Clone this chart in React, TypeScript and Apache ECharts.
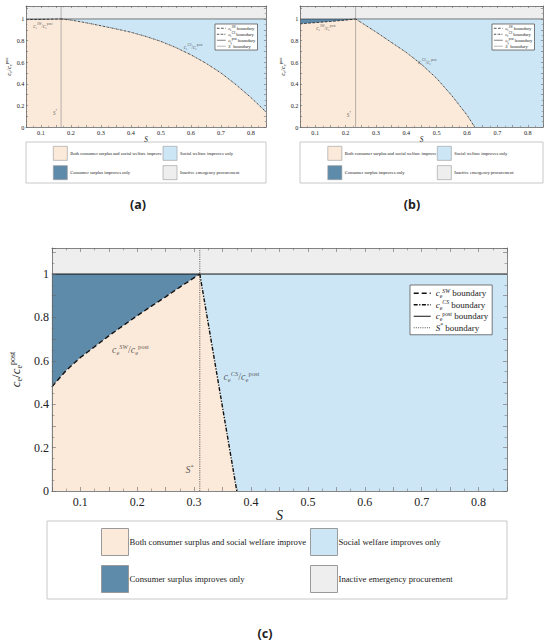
import React, { useEffect, useRef } from "react";
import * as echarts from "echarts";

const SERIF = "'Liberation Serif', 'DejaVu Serif', serif";
const SANS = "'Noto Sans', 'Open Sans', sans-serif";

// axis ranges and tick labels
const X_RANGE = [0.05, 0.85];
const Y_RANGE = [0, 1.12];
const X_TICK_LABELS = [0.1, 0.2, 0.3, 0.4, 0.5, 0.6, 0.7, 0.8];
const Y_TICK_LABELS = [0, 0.2, 0.4, 0.6, 0.8, 1];
const POST_LEVEL = 1;

// panel (a)
const A_S_STAR = 0.167;
const A_SW_S = [0.05, 0.1, 0.167];
const A_SW_V = [0.994, 0.996, 1.0];
const A_CS_S = [0.167, 0.2, 0.25, 0.3, 0.35, 0.4, 0.45, 0.5, 0.55, 0.6, 0.65, 0.7, 0.75, 0.8, 0.85];
const A_CS_V = [1.0, 0.99, 0.965, 0.937, 0.908, 0.877, 0.838, 0.792, 0.735, 0.668, 0.59, 0.5, 0.392, 0.272, 0.14];

// panel (b)
const B_S_STAR = 0.233;
const B_SW_S = [0.05, 0.1, 0.15, 0.2, 0.233];
const B_SW_V = [0.955, 0.966, 0.977, 0.989, 1.0];
const B_CS_S = [0.233, 0.25, 0.3, 0.35, 0.4, 0.45, 0.5, 0.55, 0.6, 0.625];
const B_CS_V = [1.0, 0.97, 0.88, 0.785, 0.69, 0.58, 0.45, 0.29, 0.11, 0.0];

// panel (c)
const C_S_STAR = 0.31;
const C_SW_S = [0.05, 0.075, 0.1, 0.125, 0.15, 0.175, 0.2, 0.225, 0.25, 0.275, 0.31];
const C_SW_V = [0.48, 0.555, 0.615, 0.665, 0.715, 0.762, 0.808, 0.852, 0.895, 0.94, 1.0];
const C_CS_S = [0.31, 0.375];
const C_CS_V = [1.0, 0.0];

const REGION_NAMES = [
  "Both consumer surplus and social welfare improve",
  "Consumer surplus improves only",
  "Social welfare improves only",
  "Inactive emergency procurement",
];
const LINE_NAMES = ["c_e^SW boundary", "c_e^CS boundary", "c_e^post boundary", "S* boundary"];
const CAPTIONS = ["(a)", "(b)", "(c)"];

const PEACH = "#FBE9D9";
const DARK_BLUE = "#5F8BAA";
const LIGHT_BLUE = "#CDE6F5";
const GREY = "#EEEEEE";
const REGION_COLORS = [PEACH, DARK_BLUE, LIGHT_BLUE, GREY];
const FRAME = "#666";

const LINE_RICH: Record<string, string> = {
  "c_e^SW boundary": "{i|c}{sub|e}{supi|SW}{n| boundary}",
  "c_e^CS boundary": "{i|c}{sub|e}{supi|CS}{n| boundary}",
  "c_e^post boundary": "{i|c}{sub|e}{sup|post}{n| boundary}",
  "S* boundary": "{i|S}{sup|*}{n| boundary}",
};
const SW_LABEL = "{i|c}{sub|e}{supi|SW}{n|/}{i|c}{sub|e}{sup|post}";
const CS_LABEL = "{i|c}{sub|e}{supi|CS}{n|/}{i|c}{sub|e}{sup|post}";
const STAR_LABEL = "{i|S}{sup|*}";
const Y_NAME = "{i|c}{sub|e}{n|/}{i|c}{sub|e}{sup|post}";

type Panel = {
  s: number;
  grid: { left: number; top: number; width: number; height: number };
  sStar: number;
  sw: [number[], number[]];
  cs: [number[], number[]];
  starDotted: boolean;
  lineLegend: { left: number; top: number };
  box: { x: number; y: number; w: number; h: number };
  cols: { left: number; top: number }[];
  caption: { x: number; y: number };
  swAt: number[];
  csAt: number[];
  starAt: number[];
};

const PANELS: Panel[] = [
  {
    s: 0.52,
    grid: { left: 26, top: 6, width: 240, height: 121 },
    sStar: A_S_STAR,
    sw: [A_SW_S, A_SW_V],
    cs: [A_CS_S, A_CS_V],
    starDotted: false,
    lineLegend: { left: 215, top: 24 },
    box: { x: 26, y: 142, w: 240, h: 41 },
    cols: [{ left: 53, top: 146 }, { left: 162.7, top: 146 }],
    caption: { x: 138, y: 204 },
    swAt: [0.106, 0.935],
    csAt: [0.607, 0.744],
    starAt: [0.147, 0.13],
  },
  {
    s: 0.52,
    grid: { left: 300, top: 6, width: 243, height: 121 },
    sStar: B_S_STAR,
    sw: [B_SW_S, B_SW_V],
    cs: [B_CS_S, B_CS_V],
    starDotted: false,
    lineLegend: { left: 492, top: 24 },
    box: { x: 300, y: 142, w: 243, h: 41 },
    cols: [{ left: 327.5, top: 146 }, { left: 437, top: 146 }],
    caption: { x: 412, y: 204 },
    swAt: [0.135, 0.914],
    csAt: [0.469, 0.605],
    starAt: [0.211, 0.11],
  },
  {
    s: 1,
    grid: { left: 48, top: 248, width: 459, height: 243 },
    sStar: C_S_STAR,
    sw: [C_SW_S, C_SW_V],
    cs: [C_CS_S, C_CS_V],
    starDotted: true,
    lineLegend: { left: 410, top: 285 },
    box: { x: 47, y: 521, w: 460, h: 78 },
    cols: [{ left: 101, top: 528 }, { left: 310, top: 528 }],
    caption: { x: 265, y: 633 },
    swAt: [0.188, 0.654],
    csAt: [0.383, 0.527],
    starAt: [0.292, 0.097],
  },
];

const pairs = (xs: number[], ys: number[]) => xs.map((x, k) => [x, ys[k]]);

function rich(base: number, small: number, lh: number, color: string) {
  const common = { fontFamily: SERIF, color };
  return {
    n: { ...common, fontSize: base, lineHeight: lh },
    i: { ...common, fontSize: base, lineHeight: lh, fontStyle: "italic" },
    sub: { ...common, fontSize: small, lineHeight: small * 1.05, verticalAlign: "bottom" },
    sup: { ...common, fontSize: small, lineHeight: small * 1.05, verticalAlign: "top" },
    supi: { ...common, fontSize: small, lineHeight: small * 1.05, verticalAlign: "top", fontStyle: "italic" },
  };
}

function lineStyleFor(name: string, p: Panel) {
  const s = p.s;
  if (name === LINE_NAMES[0]) return { color: "#111", width: 1.4 * s, type: [5 * s, 3 * s] };
  if (name === LINE_NAMES[1]) return { color: "#111", width: 1.4 * s, type: [4 * s, 1.5 * s, 1.2 * s, 1.5 * s] };
  if (name === LINE_NAMES[2]) return { color: "#111", width: 1 * s };
  return p.starDotted
    ? { color: "#555", width: 1, type: [1, 1.2] }
    : { color: "#888", width: 0.6, type: "solid" };
}

function xLabel(v: number) {
  const m = X_TICK_LABELS.find((t) => Math.abs(t - v) < 1e-6);
  return m === undefined ? "" : String(m);
}
function yLabel(v: number) {
  const m = Y_TICK_LABELS.find((t) => Math.abs(t - v) < 1e-6);
  return m === undefined ? "" : String(m);
}

function buildOption() {
  const grid: any[] = [];
  const xAxis: any[] = [];
  const yAxis: any[] = [];
  const series: any[] = [];
  const legend: any[] = [];
  const graphic: any[] = [];

  PANELS.forEach((p, i) => {
    const s = p.s;
    grid.push({ ...p.grid, containLabel: false });
    const tick = {
      axisTick: { show: true, inside: true, length: 4 * s, lineStyle: { color: FRAME, width: 0.6 } },
      minorTick: { show: true, splitNumber: 2, length: 2.5 * s, lineStyle: { color: FRAME, width: 0.5 } },
      splitLine: { show: false },
      minorSplitLine: { show: false },
      axisLine: { show: true, onZero: false, lineStyle: { color: FRAME, width: 0.8 } },
      z: 10,
    };
    const labelFont = { fontFamily: SERIF, fontSize: 12 * s, color: "#222" };
    xAxis.push({
      type: "value",
      gridIndex: i,
      position: "bottom",
      min: X_RANGE[0],
      max: X_RANGE[1],
      interval: 0.05,
      ...tick,
      axisLabel: { show: true, margin: 5 * s, formatter: xLabel, ...labelFont },
      name: "S",
      nameLocation: "middle",
      nameGap: 14 * s,
      nameTextStyle: { fontFamily: SERIF, fontStyle: "italic", fontSize: 14 * s, color: "#222" },
    });
    xAxis.push({
      type: "value",
      gridIndex: i,
      position: "top",
      min: X_RANGE[0],
      max: X_RANGE[1],
      interval: 0.05,
      ...tick,
      axisLabel: { show: false },
    });
    yAxis.push({
      type: "value",
      gridIndex: i,
      position: "left",
      min: Y_RANGE[0],
      max: Y_RANGE[1],
      interval: 0.1,
      ...tick,
      axisLabel: { show: true, margin: 3 * s, formatter: yLabel, ...labelFont },
      name: Y_NAME,
      nameLocation: "middle",
      nameRotate: 90,
      nameGap: 22 * s,
      nameTextStyle: { rich: rich(13 * s, 8 * s, 15 * s, "#222") },
    });
    yAxis.push({
      type: "value",
      gridIndex: i,
      position: "right",
      min: Y_RANGE[0],
      max: Y_RANGE[1],
      interval: 0.1,
      ...tick,
      axisLabel: { show: false },
    });

    const xi = 2 * i;
    const yi = 2 * i;
    const region = (name: string, color: string, data: number[][]) => ({
      type: "line",
      name,
      xAxisIndex: xi,
      yAxisIndex: yi,
      data,
      symbol: "none",
      showSymbol: false,
      itemStyle: { color },
      lineStyle: { width: 0, color },
      areaStyle: { color, opacity: 1, origin: "start" },
      silent: true,
      z: 1,
      emphasis: { disabled: true },
    });
    series.push(region(REGION_NAMES[3], GREY, [[X_RANGE[0], Y_RANGE[1]], [X_RANGE[1], Y_RANGE[1]]]));
    series.push(region(REGION_NAMES[2], LIGHT_BLUE, [[X_RANGE[0], POST_LEVEL], [X_RANGE[1], POST_LEVEL]]));
    series.push(region(REGION_NAMES[1], DARK_BLUE, [[X_RANGE[0], POST_LEVEL], [p.sStar, POST_LEVEL]]));
    series.push(
      region(REGION_NAMES[0], PEACH, [...pairs(p.sw[0], p.sw[1]), ...pairs(p.cs[0], p.cs[1]).slice(1)])
    );

    const boundary = (name: string, data: number[][]) => ({
      type: "line",
      name,
      xAxisIndex: xi,
      yAxisIndex: yi,
      data,
      symbol: "none",
      showSymbol: false,
      lineStyle: lineStyleFor(name, p),
      itemStyle: { color: lineStyleFor(name, p).color },
      silent: true,
      z: 5,
      emphasis: { disabled: true },
    });
    series.push(boundary(LINE_NAMES[2], [[X_RANGE[0], POST_LEVEL], [X_RANGE[1], POST_LEVEL]]));
    series.push(boundary(LINE_NAMES[3], [[p.sStar, Y_RANGE[0]], [p.sStar, Y_RANGE[1]]]));
    series.push(boundary(LINE_NAMES[0], pairs(p.sw[0], p.sw[1])));
    series.push(boundary(LINE_NAMES[1], pairs(p.cs[0], p.cs[1])));

    series.push({
      type: "scatter",
      xAxisIndex: xi,
      yAxisIndex: yi,
      symbolSize: 0,
      silent: true,
      z: 6,
      label: { show: true, position: "inside", rich: rich(10 * s, 6.5 * s, 13 * s, "#333") },
      data: [
        { value: p.swAt, label: { formatter: SW_LABEL } },
        { value: p.csAt, label: { formatter: CS_LABEL } },
        { value: p.starAt, label: { formatter: STAR_LABEL } },
      ],
    });

    legend.push({
      orient: "vertical",
      left: p.lineLegend.left,
      top: p.lineLegend.top,
      padding: [2.5 * s, 4 * s, 2.5 * s, 3 * s],
      itemWidth: 17 * s,
      itemHeight: 6 * s,
      itemGap: 0,
      backgroundColor: "#fff",
      borderColor: "#444",
      borderWidth: 0.7,
      selectedMode: false,
      z: 8,
      data: LINE_NAMES.map((n) => ({ name: n, lineStyle: lineStyleFor(n, p), itemStyle: { color: "transparent", borderWidth: 0 } })),
      formatter: (n: string) => LINE_RICH[n],
      textStyle: { rich: rich(9 * s, 5.8 * s, 11.5 * s, "#222"), padding: [0, 0, 0, s < 1 ? -2.5 : 0] },
    });

    const colItems = [
      [0, 1],
      [2, 3],
    ];
    colItems.forEach((idxs, c) => {
      legend.push({
        orient: "vertical",
        left: p.cols[c].left,
        top: p.cols[c].top,
        padding: 0,
        itemWidth: 27 * s,
        itemHeight: 27 * s,
        itemGap: 9 * s,
        selectedMode: false,
        z: 8,
        data: idxs.map((k) => ({
          name: REGION_NAMES[k],
          icon: "rect",
          itemStyle: { color: REGION_COLORS[k], borderColor: "#9a9a9a", borderWidth: 0.8 * s + 0.2 },
        })),
        textStyle: { fontFamily: SERIF, fontSize: 8.7 * s, color: "#222", padding: [0, 0, 0, -4 * s] },
      });
    });

    graphic.push({
      type: "rect",
      z: 0,
      shape: { x: p.box.x, y: p.box.y, width: p.box.w, height: p.box.h },
      style: { fill: "#fff", stroke: "#c8c8c8", lineWidth: 1 },
    });
    graphic.push({
      type: "text",
      x: p.caption.x,
      y: p.caption.y,
      style: {
        text: CAPTIONS[i],
        fontFamily: SANS,
        fontSize: 12.5,
        fontWeight: "bold",
        fill: "#222",
        align: "center",
        verticalAlign: "middle",
      },
    });
  });

  return { animation: false, backgroundColor: "#fff", grid, xAxis, yAxis, series, legend, graphic };
}

export default function App() {
  const ref = useRef<HTMLDivElement>(null);
  useEffect(() => {
    if (!ref.current) return;
    const chart = echarts.init(ref.current, null, { renderer: "svg" });
    chart.setOption(buildOption() as any);
    return () => chart.dispose();
  }, []);
  return (
    <div
      ref={ref}
      style={{ position: "fixed", left: 0, top: 0, width: 550, height: 644, background: "#fff" }}
    />
  );
}
